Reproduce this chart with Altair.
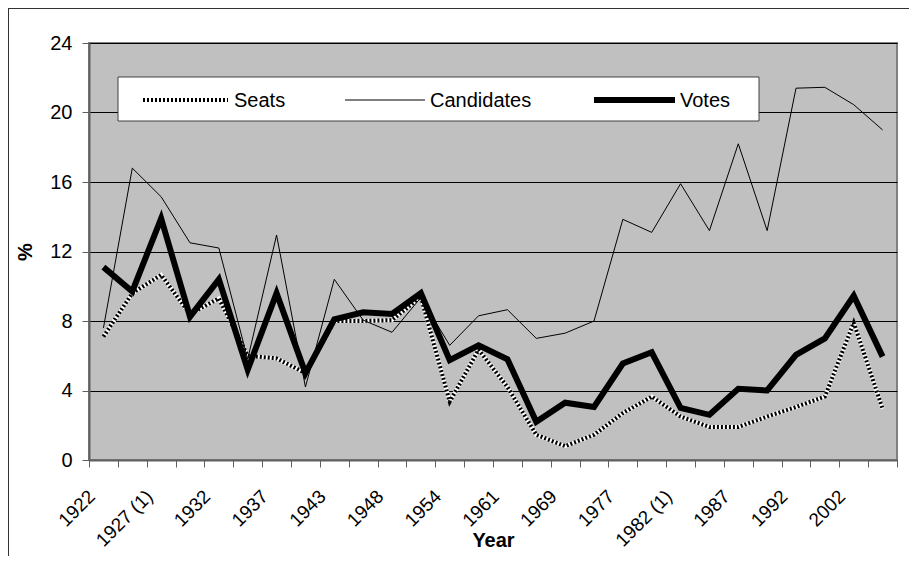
import altair as alt
import pandas as pd

years = ["1922", "1923", "1927 (1)", "1927 (2)", "1932", "1933", "1937", "1938",
         "1943", "1944", "1948", "1951", "1954", "1957", "1961", "1965", "1969",
         "1973", "1977", "1981", "1982 (1)", "1982 (2)", "1987", "1989", "1992",
         "1997", "2002", "2007"]

seats = [7.1, 9.6, 10.65, 8.4, 9.3, 6.0, 5.85, 5.0, 8.0, 8.0, 8.05, 9.4, 3.35,
         6.35, 4.2, 1.45, 0.8, 1.45, 2.7, 3.65, 2.5, 1.9, 1.9, 2.5, 3.05, 3.65,
         7.9, 2.95]

candidates = [7.6, 16.8, 15.15, 12.5, 12.2, 5.8, 12.95, 4.2, 10.4, 8.05, 7.35,
              9.35, 6.6, 8.3, 8.65, 7.0, 7.3, 8.0, 13.85, 13.1, 15.9, 13.2,
              18.2, 13.2, 21.4, 21.45, 20.45, 19.0]

votes = [11.1, 9.7, 13.9, 8.25, 10.4, 5.2, 9.6, 5.0, 8.1, 8.5, 8.4, 9.6, 5.75,
         6.6, 5.8, 2.2, 3.3, 3.05, 5.55, 6.2, 3.0, 2.6, 4.1, 4.0, 6.05, 7.0,
         9.45, 5.95]

y_ticks = [0, 4, 8, 12, 16, 20, 24]
legend_labels = ["Seats", "Candidates", "Votes"]

df = pd.DataFrame({"year": years, "Seats": seats, "Candidates": candidates,
                   "Votes": votes})

FONT = "Liberation Sans"
W, H = 808, 417

year_arr = "[" + ",".join("'" + y + "'" for y in years) + "]"
label_expr = f"indexof({year_arr}, datum.value) % 2 == 0 ? datum.label : ''"

x_enc = alt.X(
    "year:N", sort=years, bandPosition=0.5,
    scale=alt.Scale(type="band", paddingInner=0, paddingOuter=0),
    axis=alt.Axis(
        tickBand="extent", labelAngle=315, labelAlign="right",
        labelBaseline="middle", labelFontSize=19, labelPadding=26,
        labelOffset=-12, labelExpr=label_expr, labelOverlap=False,
        labelColor="black", domainColor="#606060", domainWidth=2,
        tickColor="#606060", tickSize=7, tickWidth=1, grid=False,
        title="Year", titleFontSize=20, titleFontWeight="bold",
        titleColor="black", titleY=86, titleBaseline="alphabetic",
    ),
)

y_axis = alt.Axis(
    values=y_ticks, grid=True, gridColor="black", gridWidth=1,
    domainColor="#606060", domainWidth=2, tickColor="#606060",
    tickSize=7, tickWidth=1, labelFontSize=20, labelColor="black",
    labelPadding=10, title="%", titleFontSize=20,
    titleFontWeight="bold", titleColor="black", titleX=-64,
    titleY=H / 2, titleAngle=270, titleAlign="center",
    titleBaseline="middle",
)

def y_enc(field):
    return alt.Y(f"{field}:Q", scale=alt.Scale(domain=[0, 24], nice=False),
                 axis=y_axis, title="%")

base = alt.Chart(df)

seats_base = base.mark_line(color="white", strokeWidth=4).encode(
    x=x_enc, y=y_enc("Seats"))
seats_dash = base.mark_line(color="black", strokeWidth=4,
                            strokeDash=[2, 2]).encode(x=x_enc, y=y_enc("Seats"))
cand_line = base.mark_line(color="black", strokeWidth=1).encode(
    x=x_enc, y=y_enc("Candidates"))
votes_line = base.mark_line(color="black", strokeWidth=6,
                            strokeJoin="miter").encode(x=x_enc, y=y_enc("Votes"))

one = alt.Data(values=[{}])

legend_box = alt.Chart(one).mark_rect(fill="white", stroke="#404040",
                                      strokeWidth=1).encode(
    x=alt.value(29), x2=alt.value(670), y=alt.value(34), y2=alt.value(78))

ly = 57
leg_seats_w = alt.Chart(one).mark_rule(color="white", strokeWidth=4).encode(
    x=alt.value(54), x2=alt.value(139), y=alt.value(ly))
leg_seats_b = alt.Chart(one).mark_rule(color="black", strokeWidth=4,
                                       strokeDash=[2, 2]).encode(
    x=alt.value(54), x2=alt.value(139), y=alt.value(ly))
leg_cand = alt.Chart(one).mark_rule(color="black", strokeWidth=1).encode(
    x=alt.value(256), x2=alt.value(336), y=alt.value(ly))
leg_votes = alt.Chart(one).mark_rule(color="black", strokeWidth=6).encode(
    x=alt.value(505), x2=alt.value(586), y=alt.value(ly))

def leg_text(label, xpos):
    return alt.Chart(one).mark_text(
        text=label, font=FONT, fontSize=20, align="left", baseline="middle",
        color="black").encode(x=alt.value(xpos), y=alt.value(ly + 1))

frame = alt.Chart(one).mark_rect(fill="transparent", stroke="#333333",
                                 strokeWidth=2).encode(
    x=alt.value(-81), x2=alt.value(W + 200), y=alt.value(-35),
    y2=alt.value(H + 300))

chart = alt.layer(
    seats_base, seats_dash, cand_line, votes_line, frame, legend_box,
    leg_seats_w, leg_seats_b, leg_cand, leg_votes,
    leg_text(legend_labels[0], 145), leg_text(legend_labels[1], 341),
    leg_text(legend_labels[2], 591),
).properties(
    width=W, height=H,
    autosize=alt.AutoSizeParams(type="none"),
    padding={"left": 81, "top": 35, "right": 12, "bottom": 96},
    background="white",
).configure(font=FONT).configure_view(
    fill="#C0C0C0", stroke="#808080", strokeWidth=2
)

chart.save("out.html", embed_options={"renderer": "svg", "actions": False})
